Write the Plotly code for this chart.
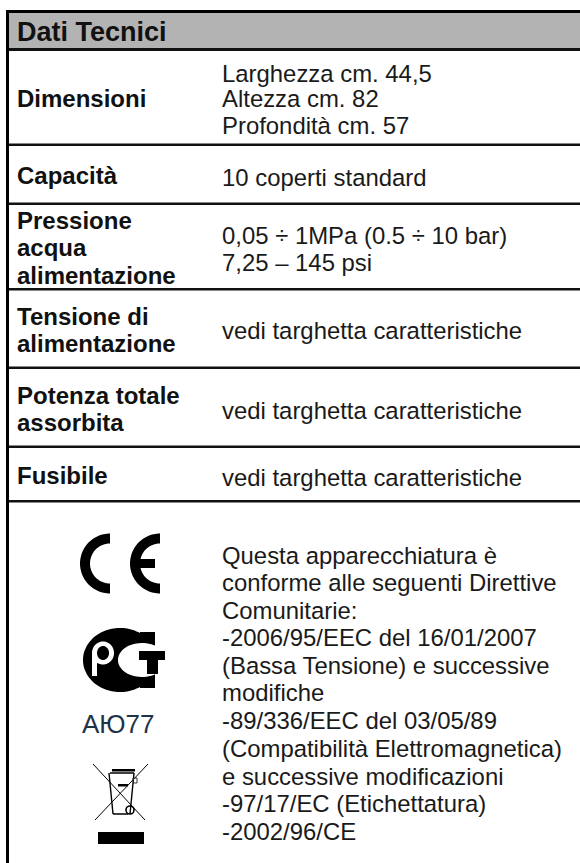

import numpy as np
import plotly.graph_objects as go

TITLE = "Dati Tecnici"
LABELS = [
    ("Dimensioni", 98), ("Capacità", 175), ("Pressione", 220), ("acqua", 247), ("alimentazione", 275),
    ("Tensione di", 316), ("alimentazione", 343), ("Potenza totale", 395), ("assorbita", 422), ("Fusibile", 475),
]
VALUES = [
    ("Larghezza cm. 44,5", 73), ("Altezza cm. 82", 98), ("Profondità cm. 57", 125),
    ("10 coperti standard", 177), ("0,05 ÷ 1MPa (0.5 ÷ 10 bar)", 235), ("7,25 – 145 psi", 262),
    ("vedi targhetta caratteristiche", 330), ("vedi targhetta caratteristiche", 410),
    ("vedi targhetta caratteristiche", 477),
]
NOTE = [
    "Questa apparecchiatura è", "conforme alle seguenti Direttive", "Comunitarie:",
    "-2006/95/EEC del 16/01/2007", "(Bassa Tensione) e successive", "modifiche",
    "-89/336/EEC del 03/05/89", "(Compatibilità Elettromagnetica)", "e successive modificazioni",
    "-97/17/EC (Etichettatura)", "-2002/96/CE",
]
NOTE_Y = [555, 582.5, 610, 637, 665, 692, 720, 748, 776, 803, 831]
RULES = [143.5, 202.5, 288, 366.5, 445.5, 500]
FONT = "Liberation Sans"

def arc(cx, cy, rx, ry, a0, a1, n=60):
    t = np.radians(np.linspace(a0, a1, n))
    return list(zip(cx + rx*np.cos(t), cy + ry*np.sin(t)))

def poly(pts):
    return "M" + " L".join(f"{x:.1f},{y:.1f}" for x, y in pts) + " Z"

shapes = []
def rect(x0, y0, x1, y1, c="#000"):
    shapes.append(dict(type="rect", x0=x0, y0=y0, x1=x1, y1=y1, fillcolor=c, line_width=0, layer="above"))
def line(x0, y0, x1, y1, w=1.0, c="#000"):
    shapes.append(dict(type="line", x0=x0, y0=y0, x1=x1, y1=y1, line=dict(color=c, width=w), layer="above"))
def fill(pts, c="#000"):
    shapes.append(dict(type="path", path=poly(pts), fillcolor=c, line_width=0, layer="above"))

rect(9, 13, 580, 48, "#b3b3b3")
rect(6, 10, 580, 13)
rect(6, 10, 9, 863)
rect(9, 48, 580, 51, "#111")
for y in RULES:
    rect(9, y, 580, y+2.5, "#111")

# CE mark
fill(arc(110, 563.5, 30, 30, 90, 270) + arc(110, 563.5, 20, 20, 270, 90))
fill(arc(160, 563.5, 30, 30, 90, 270) + arc(160, 563.5, 20, 20, 270, 90))
rect(136, 559, 155, 568)

# round certification mark
blob = [(min(x, 155), y) for x, y in arc(120, 660, 37, 32, 0, 360, 120)]
fill(blob)
rect(140, 632, 155, 688)
fill(arc(142, 660, 24, 17, 0, 360), "#fff")
rect(155, 640, 170, 680, "#fff")
fill([(92, 676), (92, 653)] + arc(103, 653, 11, 11.5, 180, 360) + arc(103, 653, 11, 11.5, 0, 110) + [(97, 663), (97, 676)], "#fff")
fill(arc(103, 653, 6, 7, 0, 360))
rect(139, 651, 165, 660)
rect(147, 651, 158, 674)

# crossed-out bin
line(93, 764, 145, 820, 1.0)
line(148, 764, 95, 820, 1.0)
line(110, 773, 134, 773, 1.5)
line(109, 773, 113, 814, 1.4)
line(134, 773, 130, 814, 1.4)
line(113, 814, 128, 814, 1.5)
rect(112, 769, 135, 771.5)
rect(118, 784, 128, 786.5)
shapes.append(dict(type="rect", x0=133, y0=778, x1=137, y1=783, line=dict(color="#333", width=1), layer="above"))
shapes.append(dict(type="circle", x0=126, y0=806, x1=134, y1=814, line=dict(color="#000", width=1.6), layer="above"))
rect(98, 832, 144, 844)

ann = [dict(x=15, y=32, text=f"<b>{TITLE}</b>", font=dict(size=27, color="#111", family=FONT), showarrow=False, xanchor="left", yanchor="middle")]
for t, y in LABELS:
    ann.append(dict(x=15, y=y, text=f"<b>{t}</b>", font=dict(size=24, color="#111", family=FONT), showarrow=False, xanchor="left", yanchor="middle"))
for t, y in VALUES + list(zip(NOTE, NOTE_Y)):
    ann.append(dict(x=219.5, y=y, text=t, font=dict(size=23.9, color="#1a1a1a", family=FONT), showarrow=False, xanchor="left", yanchor="middle"))
ann.append(dict(x=118, y=724, text="АЮ77", font=dict(size=26, color="#1f3347", family=FONT), showarrow=False, xanchor="center", yanchor="middle"))

fig = go.Figure()
fig.update_layout(
    width=580, height=863, margin=dict(l=0, r=0, t=0, b=0), autosize=False,
    paper_bgcolor="#fff", plot_bgcolor="#fff", showlegend=False, shapes=shapes, annotations=ann,
    xaxis=dict(range=[0, 580], visible=False, fixedrange=True),
    yaxis=dict(range=[863, 0], visible=False, fixedrange=True),
)
fig.write_html("out.html", config=dict(displayModeBar=False),
               post_script="document.body.style.margin='0';document.documentElement.style.overflow='hidden';")
